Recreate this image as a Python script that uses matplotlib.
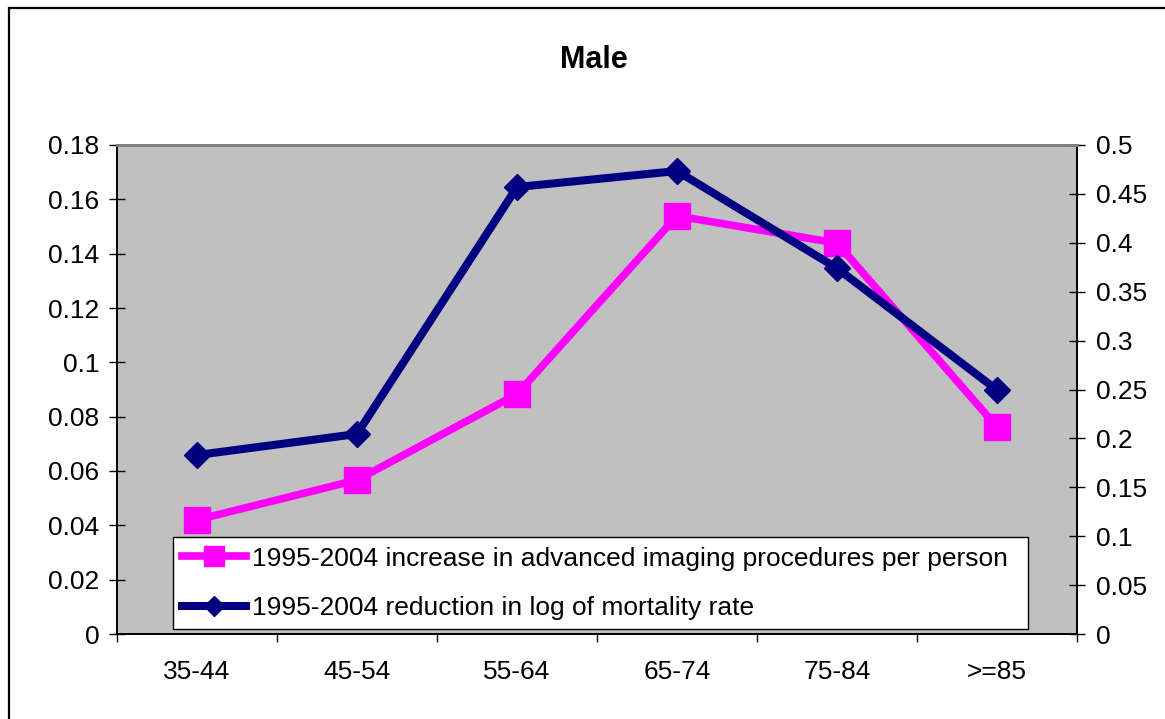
import matplotlib
matplotlib.use("Agg")
import matplotlib.pyplot as plt
from matplotlib.patches import Rectangle
import numpy as np

categories = ["35-44", "45-54", "55-64", "65-74", "75-84", ">=85"]
imaging_increase = [0.042, 0.0567, 0.0883, 0.1539, 0.1439, 0.0762]
mortality_reduction = [0.183, 0.2045, 0.457, 0.4734, 0.374, 0.2495]
left_ticks = [0, 0.02, 0.04, 0.06, 0.08, 0.1, 0.12, 0.14, 0.16, 0.18]
left_labels = ["0", "0.02", "0.04", "0.06", "0.08", "0.1", "0.12", "0.14", "0.16", "0.18"]
right_ticks = [0, 0.05, 0.1, 0.15, 0.2, 0.25, 0.3, 0.35, 0.4, 0.45, 0.5]
right_labels = ["0", "0.05", "0.1", "0.15", "0.2", "0.25", "0.3", "0.35", "0.4", "0.45", "0.5"]
label_imaging = "1995-2004 increase in advanced imaging procedures per person"
label_mortality = "1995-2004 reduction in log of mortality rate"

plt.rcParams['font.family'] = ['Liberation Sans', 'DejaVu Sans']
FS = 19

fig = plt.figure(figsize=(11.65, 7.19), dpi=100)
fig.patch.set_facecolor('white')
# outer frame (left and top visible)
fig.patches.append(Rectangle((9/1165, -0.1), 1.2, 1 - 8/719 + 0.1, transform=fig.transFigure,
                             fill=False, edgecolor='black', linewidth=1.6))

ax = fig.add_axes([117/1165, 1 - 634/719, (1077-117)/1165, (634-145)/719])
ax.set_facecolor('#C0C0C0')
ax2 = ax.twinx()

x = np.arange(len(categories)) + 0.5
ax.plot(x, imaging_increase, color='#FF00FF', linewidth=5.5, marker='s', markersize=19,
        markerfacecolor='#FF00FF', markeredgecolor='#FF00FF', label=label_imaging, zorder=3)
ax2.plot(x, mortality_reduction, color='#000080', linewidth=5.8, marker='D', markersize=13,
         markerfacecolor='#000080', markeredgecolor='#000080', label=label_mortality, zorder=3)

ax.set_xlim(0, len(categories))
ax.set_ylim(0, 0.18)
ax2.set_ylim(0, 0.5)

ax.set_xticks(np.arange(len(categories) + 1))
ax.set_xticklabels([])
ax.set_xticks(x, minor=True)
ax.set_xticklabels(categories, minor=True, fontsize=FS)
ax.tick_params(axis='x', which='major', direction='out', length=6, width=1, color='black')
ax.tick_params(axis='x', which='minor', length=0, pad=19)

ax.set_yticks(left_ticks)
ax.set_yticklabels(left_labels, fontsize=FS)
ax.tick_params(axis='y', direction='inout', length=11.5, width=1, pad=7)
ax2.set_yticks(right_ticks)
ax2.set_yticklabels(right_labels, fontsize=FS)
ax2.tick_params(axis='y', direction='inout', length=11.5, width=1, pad=8)

for a in (ax, ax2):
    a.spines['left'].set_color('black')
    a.spines['right'].set_color('black')
    a.spines['bottom'].set_color('black')
    a.spines['top'].set_color('#808080')
    for s in a.spines.values():
        s.set_linewidth(1.2)
    a.spines['top'].set_linewidth(2)
ax2.patch.set_visible(False)

h1, l1 = ax.get_legend_handles_labels()
h2, l2 = ax2.get_legend_handles_labels()
leg = ax2.legend(h1 + h2, l1 + l2, loc='lower left',
                 bbox_to_anchor=(56/959, 5/489, (1027-173)/959, 90/489), mode='expand',
                 borderaxespad=0, fontsize=FS, frameon=True, fancybox=False,
                 edgecolor='black', facecolor='white', framealpha=1,
                 handlelength=2.4, handletextpad=0.25, borderpad=0.35, labelspacing=0.95)
leg.get_frame().set_linewidth(1.0)
lines = leg.get_lines()
lines[0].set_markersize(14)
lines[1].set_markersize(10)

fig.text(594/1165, 1 - 60/719, "Male", ha='center', va='center', fontsize=22, fontweight='bold')

fig.savefig("out.png", dpi=100, facecolor='white')
